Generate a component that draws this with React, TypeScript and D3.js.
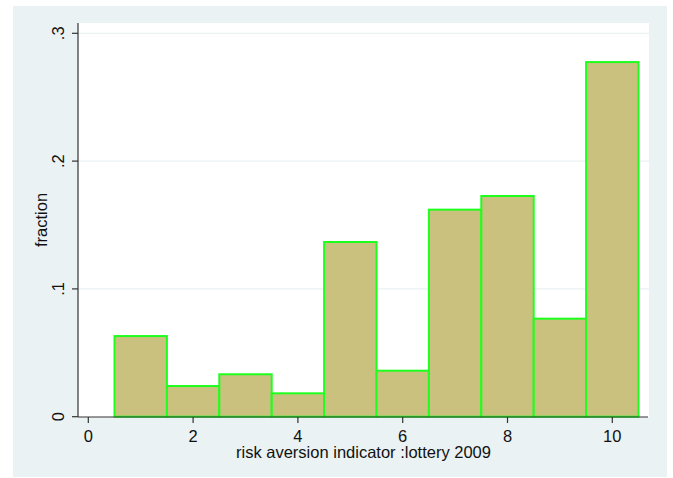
import React from "react";
import * as d3 from "d3";

const categories = [1, 2, 3, 4, 5, 6, 7, 8, 9, 10];
const fractions = [0.0631, 0.024, 0.0332, 0.0183, 0.1367, 0.036, 0.162, 0.1727, 0.0767, 0.2775];
const xTicks = [0, 2, 4, 6, 8, 10];
const yTicks = [0, 0.1, 0.2, 0.3];
const yTickLabels = ["0", ".1", ".2", ".3"];
const xTitle = "risk aversion indicator :lottery 2009";
const yTitle = "fraction";

const W = 673;
const H = 478;
const plot = { left: 78, right: 649, top: 23, bottom: 417 };

export default function App() {
  const x = d3.scaleLinear().domain([0, 10]).range([88.3, 612.3]);
  const y = d3.scaleLinear().domain([0, 0.3]).range([416.7, 33.3]);
  const font = "'Liberation Sans', Arial, sans-serif";
  const axisColor = "#333";
  const fs = 16.5;
  return (
    <svg
      width={W}
      height={H}
      style={{ position: "absolute", left: 0, top: 0, display: "block" }}
      fontFamily={font}
    >
      <rect x={0} y={0} width={W} height={H} fill="#ffffff" />
      <rect x={13} y={6} width={654} height={H - 7} fill="#EAF2F3" />
      <rect
        x={plot.left}
        y={plot.top}
        width={plot.right - plot.left}
        height={plot.bottom - plot.top}
        fill="#ffffff"
      />
      {yTicks.slice(1).map((t) => (
        <line
          key={"g" + t}
          x1={plot.left}
          x2={plot.right}
          y1={y(t)}
          y2={y(t)}
          stroke="#EAF2F3"
          strokeWidth={1.2}
        />
      ))}
      {categories.map((c, i) => (
        <rect
          key={"b" + c}
          x={x(c - 0.5)}
          y={y(fractions[i])}
          width={x(c + 0.5) - x(c - 0.5)}
          height={y(0) - y(fractions[i])}
          fill="#CBC17E"
          stroke="#1EFF1E"
          strokeWidth={2}
        />
      ))}
      <line x1={plot.left} x2={plot.left} y1={plot.top} y2={plot.bottom} stroke={axisColor} strokeWidth={1.2} />
      <line x1={plot.left} x2={plot.right - 1} y1={plot.bottom} y2={plot.bottom} stroke={axisColor} strokeWidth={1.2} />
      {yTicks.map((t, i) => (
        <g key={"y" + t}>
          <line x1={plot.left - 6} x2={plot.left} y1={y(t)} y2={y(t)} stroke={axisColor} strokeWidth={1.2} />
          <text
            transform={`translate(64,${y(t)}) rotate(-90)`}
            textAnchor="middle"
            fontSize={fs}
            fill="#111"
          >
            {yTickLabels[i]}
          </text>
        </g>
      ))}
      {xTicks.map((t) => (
        <g key={"x" + t}>
          <line x1={x(t)} x2={x(t)} y1={plot.bottom} y2={plot.bottom + 6} stroke={axisColor} strokeWidth={1.2} />
          <text x={x(t)} y={442} textAnchor="middle" fontSize={fs} fill="#111">
            {t}
          </text>
        </g>
      ))}
      <text x={(plot.left + plot.right) / 2} y={457.5} textAnchor="middle" fontSize={fs} fill="#111">
        {xTitle}
      </text>
      <text
        transform={`translate(47,${(plot.top + plot.bottom) / 2}) rotate(-90)`}
        textAnchor="middle"
        fontSize={fs}
        fill="#111"
      >
        {yTitle}
      </text>
    </svg>
  );
}
